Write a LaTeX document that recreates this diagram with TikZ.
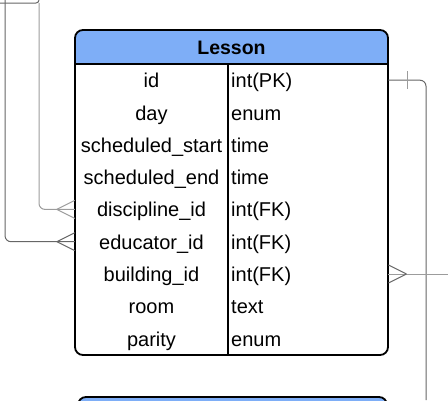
\documentclass[tikz,border=0pt]{standalone}
\usepackage{fontspec}
\setmainfont{Liberation Sans}
\definecolor{hdrblue}{HTML}{7EAEF7}
\definecolor{lnkdark}{HTML}{666666}
\definecolor{lnklight}{HTML}{9C9C9C}
\begin{document}
\begin{tikzpicture}[x=1pt,y=-1pt,
    tbl/.style={line width=1.8pt,black},
    link/.style={line width=1pt,lnkdark,rounded corners=6pt},
    fname/.style={minimum width=153pt,minimum height=32.3pt,inner sep=0pt,text height=17pt,text depth=2pt,font=\fontsize{20}{22}\selectfont},
    ftype/.style={anchor=west,text width=154pt,inner xsep=3pt,inner ysep=0pt,minimum height=32.3pt,text height=17pt,text depth=2pt,align=left,font=\fontsize{20}{22}\selectfont}]
    \useasboundingbox (0,0) rectangle (448,400);
    \clip (0,0) rectangle (448,400);
    \fill[hdrblue] (75,64) [rounded corners=8pt] -- (75,30) -- (388,30) [sharp corners] -- (388,64) -- cycle;
    \node[font=\fontsize{19.5}{22}\selectfont\bfseries] (lesson) at (231.5,48) {Lesson};
    \foreach \fld/\typ [count=\i] in {id/int(PK),day/enum,scheduled\_start/time,scheduled\_end/time,discipline\_id/int(FK),educator\_id/int(FK),building\_id/int(FK),room/text,parity/enum}{
        \node[fname] (n\i) at (151.5,{80.2+32.3*(\i-1)}) {\fld};
        \node[ftype] (t\i) at (228,{80.2+32.3*(\i-1)}) {\typ};
    }
    \draw[tbl,rounded corners=8pt] (75,30) rectangle (388,355);
    \draw[tbl] (75,64) -- (388,64) (228,64) -- (228,355);
    \draw[tbl,fill=hdrblue,rounded corners=8pt] (78,397) rectangle (387,440);
    \coordinate (top-a) at (0,3);
    \coordinate (top-b) at (39,0);
    \coordinate (disc-src) at (39,3);
    \coordinate (edu-src) at (5,0);
    \coordinate (les-dst) at (426,400);
    \coordinate (bld-dst) at (448,274);
    \draw[link,rounded corners=3pt] (top-a) -| (top-b);
    \draw[link,lnklight] (disc-src) |- (n5.west);
    \draw[link,lnklight,rounded corners=0pt] ([xshift=-18pt]n5.west) -- ([yshift=9pt]n5.west) ([xshift=-18pt]n5.west) -- ([yshift=-9pt]n5.west);
    \draw[link] (edu-src) |- (n6.west);
    \draw[link,rounded corners=0pt] ([xshift=-18pt]n6.west) -- ([yshift=9pt]n6.west) ([xshift=-18pt]n6.west) -- ([yshift=-9pt]n6.west);
    \draw[link] (t1.east) -| (les-dst);
    \draw[link,lnklight] ([xshift=19pt]t1.east) +(0,9pt) -- +(0,-9pt);
    \draw[link,lnklight] (t7.east) -- (bld-dst);
    \draw[link,rounded corners=0pt] ([xshift=18pt]t7.east) -- ([yshift=9pt]t7.east) ([xshift=18pt]t7.east) -- ([yshift=-9pt]t7.east);
\end{tikzpicture}
\end{document}
